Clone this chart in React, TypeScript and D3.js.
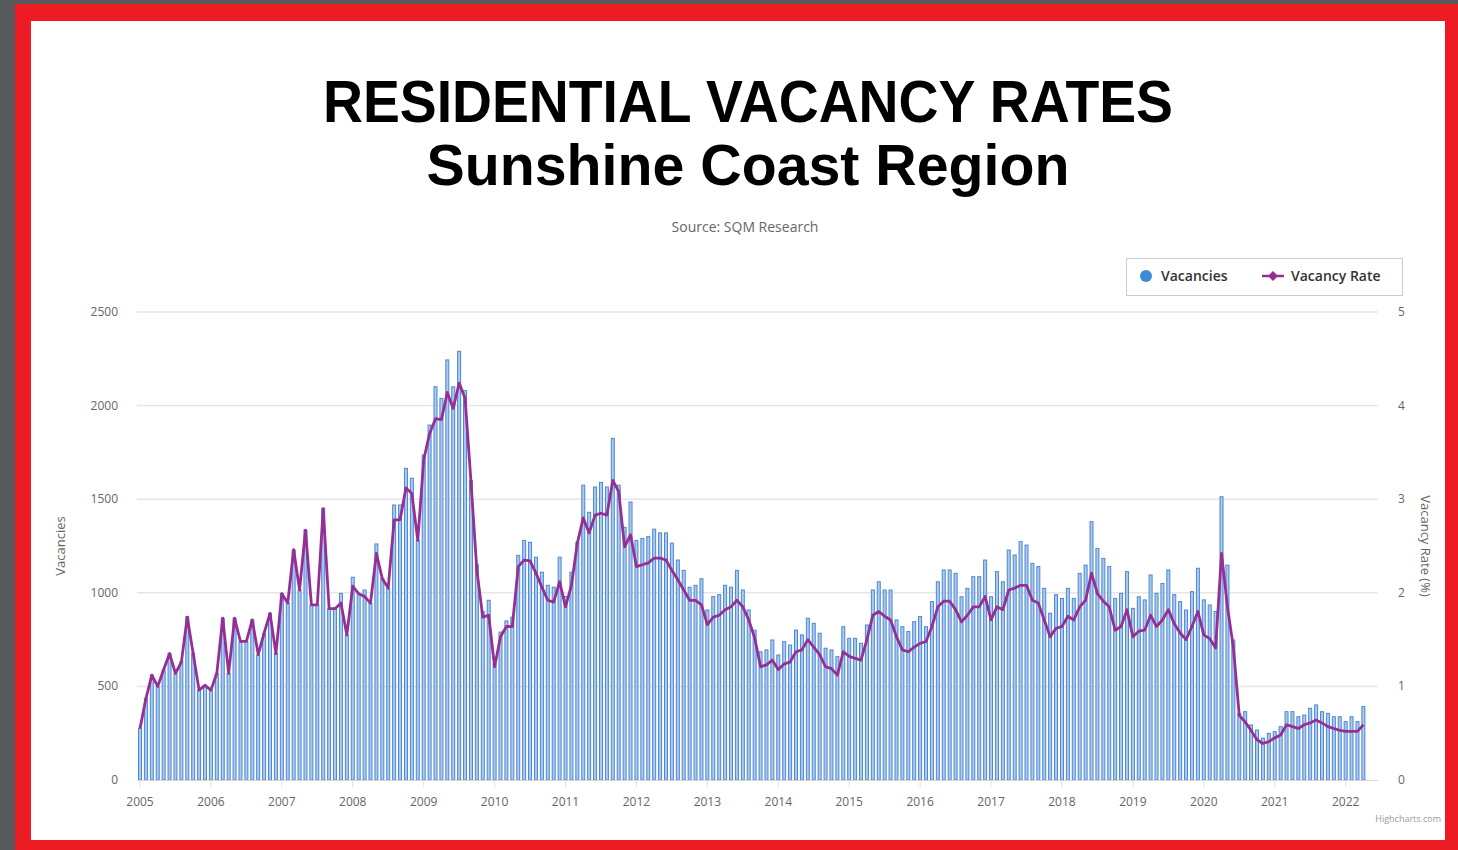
import React, { useEffect, useRef } from "react";
import * as d3 from "d3";

const W = 1458;
const H = 850;

const years = ["2005", "2006", "2007", "2008", "2009", "2010", "2011", "2012", "2013", "2014", "2015", "2016", "2017", "2018", "2019", "2020", "2021", "2022"];

// monthly vacancies, Jan 2005 .. Apr 2022
const vacancies = [
  276, 436, 561, 499, 588, 677, 570, 632, 872, 677, 481, 507,
  481, 570, 864, 570, 864, 739, 739, 855, 668, 783, 890, 677,
  997, 944, 1229, 1015, 1335, 935, 935, 1451, 917, 917, 997, 775,
  1083, 997, 1015, 944, 1261, 1077, 1024, 1469, 1469, 1665, 1612, 1282,
  1736, 1896, 2101, 2039, 2244, 2100, 2290, 2080, 1600, 1150, 900, 960,
  620, 790, 850, 870, 1200, 1280, 1270, 1190, 1110, 1040, 1030, 1190,
  980, 1110, 1270, 1575, 1430, 1565, 1590, 1565, 1825, 1575, 1350, 1485,
  1280, 1290, 1300, 1340, 1320, 1320, 1265, 1175, 1120, 1030, 1040, 1075,
  908, 980, 990, 1040, 1030, 1120, 1015, 908, 800, 685, 695, 748,
  668, 739, 721, 801, 775, 864, 837, 784, 704, 695, 659, 819,
  757, 757, 730, 828, 1015, 1059, 1015, 1015, 855, 819, 793, 846,
  873, 819, 953, 1059, 1122, 1122, 1104, 979, 1024, 1086, 1086, 1175,
  979, 1113, 1059, 1228, 1202, 1273, 1255, 1157, 1140, 1024, 891, 990,
  970, 1024, 970, 1104, 1148, 1380, 1237, 1184, 1140, 970, 997, 1113,
  917, 979, 962, 1095, 997, 1050, 1122, 990, 953, 908, 1006, 1131,
  962, 935, 900, 1513, 1148, 748, 356, 365, 294, 267, 223, 249,
  258, 285, 365, 365, 338, 347, 383, 401, 365, 356, 338, 338,
  312, 338, 312, 392,
];

// monthly vacancy rate (%)
const vacancyRate = [
  0.55, 0.87, 1.12, 1.0, 1.18, 1.35, 1.14, 1.26, 1.74, 1.35, 0.96, 1.01,
  0.96, 1.14, 1.73, 1.14, 1.73, 1.48, 1.48, 1.71, 1.34, 1.57, 1.78, 1.35,
  1.99, 1.89, 2.46, 2.03, 2.67, 1.87, 1.87, 2.9, 1.83, 1.83, 1.89, 1.55,
  2.07, 1.99, 1.96, 1.89, 2.42, 2.15, 2.05, 2.78, 2.78, 3.12, 3.06, 2.56,
  3.42, 3.7, 3.86, 3.85, 4.14, 3.97, 4.24, 4.08, 3.19, 2.24, 1.74, 1.76,
  1.21, 1.53, 1.64, 1.64, 2.28, 2.35, 2.34, 2.21, 2.06, 1.92, 1.9, 2.12,
  1.85, 2.08, 2.53, 2.8, 2.64, 2.83, 2.85, 2.83, 3.2, 3.08, 2.49, 2.62,
  2.28, 2.3, 2.32, 2.37, 2.37, 2.35, 2.24, 2.14, 2.03, 1.92, 1.92, 1.87,
  1.66, 1.74, 1.76, 1.82, 1.85, 1.92, 1.85, 1.71, 1.52, 1.21, 1.23, 1.28,
  1.18, 1.24, 1.26, 1.37, 1.39, 1.5, 1.42, 1.34, 1.21, 1.19, 1.12, 1.37,
  1.32, 1.3, 1.28, 1.5, 1.76, 1.8, 1.75, 1.71, 1.53, 1.39, 1.37, 1.42,
  1.46, 1.48, 1.64, 1.85, 1.91, 1.91, 1.82, 1.69, 1.76, 1.85, 1.85, 1.96,
  1.71, 1.85, 1.82, 2.03, 2.05, 2.08, 2.08, 1.92, 1.89, 1.71, 1.53, 1.62,
  1.64, 1.75, 1.71, 1.85, 1.92, 2.21, 1.99, 1.91, 1.85, 1.6, 1.64, 1.82,
  1.53, 1.59, 1.6, 1.76, 1.64, 1.71, 1.82, 1.67, 1.57, 1.5, 1.64, 1.8,
  1.55, 1.51, 1.41, 2.42, 1.85, 1.42, 0.69, 0.62, 0.53, 0.43, 0.39, 0.41,
  0.45, 0.48, 0.59, 0.57, 0.55, 0.59, 0.61, 0.64, 0.61, 0.57, 0.55, 0.53,
  0.52, 0.52, 0.52, 0.59,
];

const leftTicks = [0, 500, 1000, 1500, 2000, 2500];
const rightTicks = [0, 1, 2, 3, 4, 5];

const colors = {
  FRAME_GREY: "#58595b",
  FRAME_RED: "#ed1c24",
  BAR_FILL: "#a9cbf0",
  BAR_STROKE: "#4f86cf",
  LINE: "#952f95",
  GRID: "#e6e6e6",
  LABEL: "#666666",
};

const axisFont = "'Open Sans', 'DejaVu Sans', sans-serif";

export default function App() {
  const ref = useRef<SVGSVGElement | null>(null);

  useEffect(() => {
    const svg = d3.select(ref.current);
    svg.selectAll("*").remove();

    // frame
    svg.append("rect").attr("width", W).attr("height", H).attr("fill", colors.FRAME_GREY);
    svg.append("rect").attr("x", 15).attr("y", 4).attr("width", W - 15).attr("height", H - 4).attr("fill", colors.FRAME_RED);
    svg.append("rect").attr("x", 31).attr("y", 21).attr("width", 1445 - 31).attr("height", 840 - 21).attr("fill", "#fff");

    // titles
    svg
      .append("text")
      .attr("x", 748)
      .attr("y", 122)
      .attr("text-anchor", "middle")
      .attr("textLength", 850)
      .attr("lengthAdjust", "spacingAndGlyphs")
      .style("font-family", "'Liberation Sans', Arial, sans-serif")
      .style("font-weight", 700)
      .style("font-size", "60px")
      .text("RESIDENTIAL VACANCY RATES");
    svg
      .append("text")
      .attr("x", 748)
      .attr("y", 185)
      .attr("text-anchor", "middle")
      .attr("textLength", 643)
      .attr("lengthAdjust", "spacingAndGlyphs")
      .style("font-family", "'Liberation Sans', Arial, sans-serif")
      .style("font-weight", 700)
      .style("font-size", "58px")
      .text("Sunshine Coast Region");
    svg
      .append("text")
      .attr("x", 745)
      .attr("y", 232)
      .attr("text-anchor", "middle")
      .style("font-family", axisFont)
      .style("font-size", "14px")
      .attr("fill", colors.LABEL)
      .text("Source: SQM Research");

    // scales
    const x = d3.scaleLinear().domain([0, vacancies.length - 1]).range([140, 140 + (vacancies.length - 1) * 5.91]);
    const yLeft = d3.scaleLinear().domain([0, 2500]).range([780, 312]);
    const yRight = d3.scaleLinear().domain([0, 5]).range([780, 312]);
    const plotLeft = 137;
    const plotRight = 1378;

    // grid
    svg
      .append("g")
      .selectAll("line")
      .data(leftTicks.slice(1))
      .enter()
      .append("line")
      .attr("x1", plotLeft)
      .attr("x2", plotRight)
      .attr("y1", (d) => yLeft(d))
      .attr("y2", (d) => yLeft(d))
      .style("stroke", colors.GRID)
      .style("stroke-width", 1.5);

    // bars
    svg
      .append("g")
      .selectAll("rect")
      .data(vacancies)
      .enter()
      .append("rect")
      .attr("x", (d, i) => x(i) - 1.5)
      .attr("y", (d) => yLeft(d))
      .attr("width", 3)
      .attr("height", (d) => yLeft(0) - yLeft(d))
      .style("fill", colors.BAR_FILL)
      .style("stroke", colors.BAR_STROKE)
      .style("stroke-width", 1);

    // axis line
    svg
      .append("line")
      .attr("x1", plotLeft)
      .attr("x2", plotRight)
      .attr("y1", 780.5)
      .attr("y2", 780.5)
      .style("stroke", "#d8d8d8")
      .style("stroke-width", 1);

    // rate line
    const line = d3
      .line<number>()
      .x((d, i) => x(i))
      .y((d) => yRight(d));
    svg
      .append("path")
      .datum(vacancyRate)
      .attr("d", line)
      .style("fill", "none")
      .style("stroke", colors.LINE)
      .style("stroke-width", 2.8)
      .style("stroke-linejoin", "round");

    // left axis labels
    svg
      .append("g")
      .selectAll("text")
      .data(leftTicks)
      .enter()
      .append("text")
      .attr("x", 118)
      .attr("y", (d) => yLeft(d) + 4)
      .attr("text-anchor", "end")
      .style("font-family", axisFont)
      .style("font-size", "12px")
      .attr("fill", colors.LABEL)
      .text((d) => String(d));

    // right axis labels
    svg
      .append("g")
      .selectAll("text")
      .data(rightTicks)
      .enter()
      .append("text")
      .attr("x", 1398)
      .attr("y", (d) => yRight(d) + 4)
      .style("font-family", axisFont)
      .style("font-size", "12px")
      .attr("fill", colors.LABEL)
      .text((d) => String(d));

    // x axis labels + ticks
    const xa = svg.append("g");
    years.forEach((yr, k) => {
      const xi = x(k * 12);
      xa.append("line")
        .attr("x1", xi)
        .attr("x2", xi)
        .attr("y1", 781)
        .attr("y2", 787)
        .style("stroke", "#e0e0e0");
      xa.append("text")
        .attr("x", xi)
        .attr("y", 806)
        .attr("text-anchor", "middle")
        .style("font-family", axisFont)
        .style("font-size", "12px")
        .attr("fill", colors.LABEL)
        .text(yr);
    });

    // axis titles
    svg
      .append("text")
      .attr("transform", "translate(65,546) rotate(-90)")
      .attr("text-anchor", "middle")
      .style("font-family", axisFont)
      .style("font-size", "13px")
      .attr("fill", colors.LABEL)
      .text("Vacancies");
    svg
      .append("text")
      .attr("transform", "translate(1421,546) rotate(90)")
      .attr("text-anchor", "middle")
      .style("font-family", axisFont)
      .style("font-size", "13px")
      .attr("fill", colors.LABEL)
      .text("Vacancy Rate (%)");

    // legend
    const lg = svg.append("g");
    lg.append("rect")
      .attr("x", 1126.5)
      .attr("y", 258.5)
      .attr("width", 276)
      .attr("height", 37)
      .style("fill", "#fff")
      .style("stroke", "#cccccc");
    lg.append("circle").attr("cx", 1146).attr("cy", 276).attr("r", 6).style("fill", "#3d8bd4");
    lg.append("text")
      .attr("x", 1161)
      .attr("y", 281)
      .style("font-family", axisFont)
      .style("font-size", "14px")
      .style("font-weight", 600)
      .attr("fill", "#333")
      .text("Vacancies");
    lg.append("line")
      .attr("x1", 1262)
      .attr("x2", 1284)
      .attr("y1", 276)
      .attr("y2", 276)
      .style("stroke", colors.LINE)
      .style("stroke-width", 2.5);
    lg.append("path")
      .attr("d", "M1273,271 L1278,276 L1273,281 L1268,276 Z")
      .style("fill", colors.LINE);
    lg.append("text")
      .attr("x", 1291)
      .attr("y", 281)
      .style("font-family", axisFont)
      .style("font-size", "14px")
      .style("font-weight", 600)
      .attr("fill", "#333")
      .text("Vacancy Rate");

    // credit
    svg
      .append("text")
      .attr("x", 1441)
      .attr("y", 822)
      .attr("text-anchor", "end")
      .style("font-family", axisFont)
      .style("font-size", "9px")
      .attr("fill", "#999")
      .text("Highcharts.com");
  }, []);

  return <svg ref={ref} width={W} height={H} style={{ position: "absolute", left: 0, top: 0 }} />;
}
